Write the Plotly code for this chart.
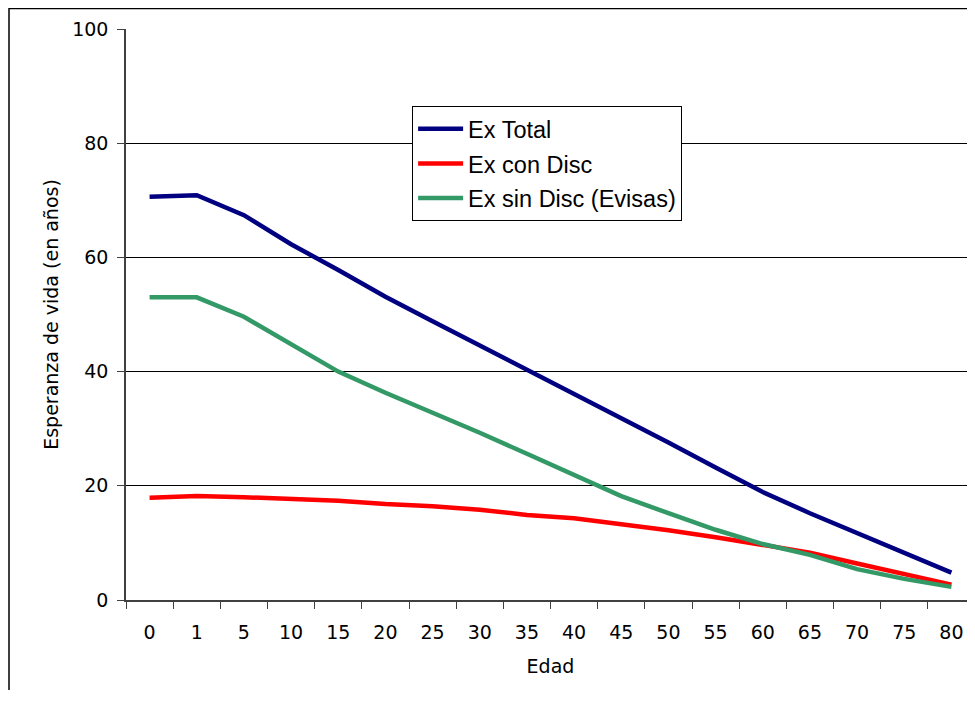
import plotly.graph_objects as go

edades = ["0", "1", "5", "10", "15", "20", "25", "30", "35", "40",
          "45", "50", "55", "60", "65", "70", "75", "80"]
ex_total = [70.6, 70.9, 67.4, 62.3, 57.8, 53.1, 48.8, 44.6, 40.2, 36.2,
            31.8, 27.6, 23.2, 18.9, 15.2, 11.7, 8.2, 4.8]
ex_con_disc = [17.9, 18.2, 18.0, 17.7, 17.4, 16.8, 16.4, 15.8, 14.9, 14.3,
               13.3, 12.2, 11.0, 9.6, 8.3, 6.4, 4.6, 2.7]
ex_sin_disc = [53.0, 53.0, 49.6, 44.8, 40.0, 36.3, 32.9, 29.3, 25.6, 21.9,
               18.2, 15.2, 12.3, 9.8, 7.9, 5.4, 3.7, 2.3]

series = [
    ("Ex Total", ex_total, "#000080"),
    ("Ex con Disc", ex_con_disc, "#FF0000"),
    ("Ex sin Disc (Evisas)", ex_sin_disc, "#339966"),
]

fig = go.Figure()
for i, (name, vals, color) in enumerate(series):
    fig.add_trace(go.Scatter(
        x=edades, y=vals, name=name, mode="lines",
        line=dict(color=color, width=4.5),
        legendgroup=f"g{i}",
    ))

axis_font = dict(family="DejaVu Sans", size=19, color="#000000")

fig.update_layout(
    width=967, height=682,
    margin=dict(l=118, r=0, t=21, b=90),
    paper_bgcolor="white", plot_bgcolor="white",
    showlegend=True,
    legend=dict(
        x=0.337, y=0.865, xanchor="left", yanchor="top",
        bgcolor="white", bordercolor="#000000", borderwidth=1,
        font=dict(family="Liberation Sans", size=23.5, color="#000000"),
        traceorder="grouped", tracegroupgap=1,
        itemwidth=45,
    ),
    xaxis=dict(
        type="category", tickson="boundaries",
        range=[-0.5, 17.5],
        showgrid=False, zeroline=False,
        showline=True, linecolor="#404040", linewidth=1.5,
        ticks="outside", ticklen=7, tickcolor="#404040", tickwidth=1,
        tickfont=axis_font, ticklabelstandoff=14,
        title=dict(text="Edad", font=axis_font, standoff=18),
    ),
    yaxis=dict(
        range=[0, 100], dtick=20, tick0=0,
        showgrid=True, gridcolor="#000000", gridwidth=1,
        zeroline=False,
        showline=True, linecolor="#404040", linewidth=1.5,
        ticks="outside", ticklen=7, tickcolor="#404040", tickwidth=1,
        tickfont=axis_font, ticklabelstandoff=5,
        title=dict(text="Esperanza de vida (en años)", font=axis_font, standoff=9),
    ),
    shapes=[
        dict(type="rect", xref="paper", yref="paper",
             x0=-0.1378, x1=1.05, y0=-0.25, y1=1.036,
             line=dict(color="#000000", width=1.5), fillcolor="rgba(0,0,0,0)",
             layer="below"),
    ],
)

fig.write_html("out.html")
